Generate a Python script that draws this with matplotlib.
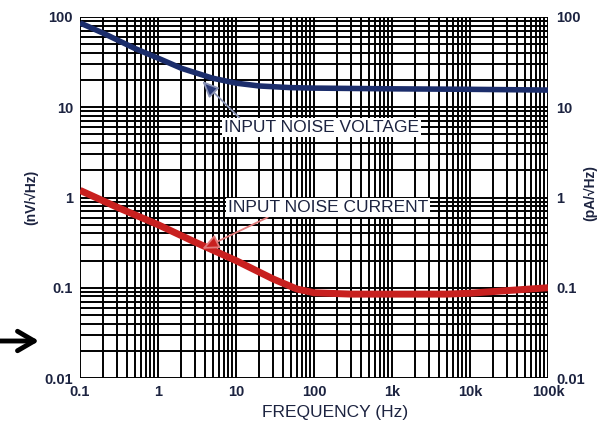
import numpy as np
import matplotlib.pyplot as plt
from matplotlib.patches import FancyArrowPatch
from matplotlib.ticker import FixedLocator, LogLocator, NullFormatter

plt.rcParams['font.family'] = ['Liberation Sans', 'DejaVu Sans']

# input noise voltage (nV/rtHz)
f_v = [0.1, 0.2, 0.5, 1, 2, 5, 10, 20, 50, 100, 1e3, 1e4, 1e5]
en = [86, 66, 45, 35, 27, 21, 18.5, 17.2, 16.5, 16.3, 16.0, 15.8, 15.5]

# input noise current (pA/rtHz)
f_i = [0.1, 0.3, 1, 3, 10, 30, 60, 100, 300, 1e3, 5e3, 1e4, 3e4, 1e5]
inoise = [1.2, 0.78, 0.5, 0.32, 0.2, 0.125, 0.097, 0.088, 0.085, 0.085, 0.085, 0.087, 0.093, 0.1]

xticks = [0.1, 1, 10, 100, 1e3, 1e4, 1e5]
xlabels = ['0.1', '1', '10', '100', '1k', '10k', '100k']
yticks = [0.01, 0.1, 1, 10, 100]
ylabels = ['0.01', '0.1', '1', '10', '100']

txt = '#1c2340'
fig = plt.figure(figsize=(6.03, 4.30), dpi=100)
ax = fig.add_axes([80/603, 1-378/430, 468/603, 361/430])
ax.set_xscale('log')
ax.set_yscale('log')
ax.set_xlim(0.1, 1e5)
ax.set_ylim(0.01, 100)

ax.xaxis.set_major_locator(FixedLocator(xticks))
ax.set_xticklabels(xlabels)
ax.yaxis.set_major_locator(FixedLocator(yticks))
ax.set_yticklabels(ylabels)
ax.xaxis.set_minor_locator(LogLocator(base=10, subs=np.arange(2, 10)))
ax.yaxis.set_minor_locator(LogLocator(base=10, subs=np.arange(2, 10)))
ax.xaxis.set_minor_formatter(NullFormatter())
ax.yaxis.set_minor_formatter(NullFormatter())
ax.grid(True, which='both', color='black', lw=1.4)
ax.tick_params(which='both', length=0, labelsize=10.5, labelcolor=txt, pad=5)
for lb in ax.get_xticklabels() + ax.get_yticklabels():
    lb.set_fontweight('bold')
for s in ax.spines.values():
    s.set_visible(False)

ax.plot(f_v, en, color='#1b2d6b', lw=4, solid_capstyle='butt', zorder=3)
ax.plot(f_i, inoise, color='#c8201f', lw=5, solid_capstyle='butt', zorder=3)

ax2 = ax.twinx()
ax2.set_yscale('log')
ax2.set_ylim(0.01, 100)
ax2.yaxis.set_major_locator(FixedLocator(yticks))
ax2.set_yticklabels(ylabels)
ax2.yaxis.set_minor_formatter(NullFormatter())
ax2.tick_params(which='both', length=0, labelsize=10.5, labelcolor=txt, pad=6)
for lb in ax2.get_yticklabels():
    lb.set_fontweight('bold')
for s in ax2.spines.values():
    s.set_visible(False)

ax.annotate('INPUT NOISE VOLTAGE', xy=(3.7, 19.5), xytext=(7.0, 6.0),
            fontsize=12.5, color=txt, va='center', ha='left',
            bbox=dict(boxstyle='square,pad=0.12', fc='white', ec='none'),
            arrowprops=dict(arrowstyle='-|>,head_length=0.8,head_width=0.35',
                            fc='#2a3a78', ec='#8a93b5', lw=1.3,
                            shrinkA=0, shrinkB=0, relpos=(0.09, 1.0)),
            zorder=5)
ax.annotate('INPUT NOISE CURRENT', xy=(3.7, 0.27), xytext=(7.9, 0.77),
            fontsize=12.5, color=txt, va='center', ha='left',
            bbox=dict(boxstyle='square,pad=0.12', fc='white', ec='none'),
            arrowprops=dict(arrowstyle='-|>,head_length=0.8,head_width=0.35',
                            fc='#c8201f', ec='#e07a7a', lw=1.3,
                            shrinkA=0, shrinkB=0, relpos=(0.22, 0.0)),
            zorder=5)

fig.text(31/603, 1-197/430, '(nV/\u221aHz)', rotation=90, ha='center', va='center',
         fontsize=10, fontweight='bold', color=txt)
fig.text(590/603, 1-193/430, '(pA/\u221aHz)', rotation=90, ha='center', va='center',
         fontsize=10, fontweight='bold', color=txt)
fig.text(335/603, 1-413/430, 'FREQUENCY (Hz)', ha='center', va='center',
         fontsize=12.5, color=txt)

fig.add_artist(FancyArrowPatch(
    (0/603, 1-341/430), (39/603, 1-341/430), transform=fig.transFigure,
    arrowstyle='->,head_length=12,head_width=7', lw=3.5, color='black',
    mutation_scale=1, shrinkA=0, shrinkB=0))

fig.savefig('out.png', dpi=100)
